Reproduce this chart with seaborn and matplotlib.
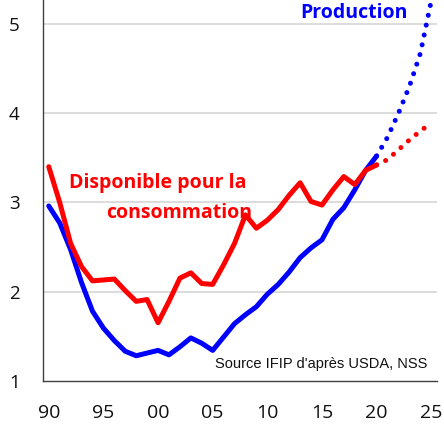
import numpy as np
import pandas as pd
import matplotlib
matplotlib.use("Agg")
import matplotlib.pyplot as plt
import seaborn as sns

# ---- data ----
years = list(range(1990, 2021))
production = [2.96, 2.77, 2.47, 2.10, 1.78, 1.59, 1.45, 1.33, 1.28, 1.31,
              1.34, 1.29, 1.38, 1.48, 1.42, 1.34, 1.49, 1.64, 1.74, 1.83,
              1.97, 2.08, 2.22, 2.38, 2.49, 2.58, 2.81, 2.94, 3.14, 3.36,
              3.52]
disponible = [3.40, 3.00, 2.54, 2.28, 2.12, 2.13, 2.14, 2.01, 1.89, 1.91,
              1.65, 1.89, 2.15, 2.21, 2.09, 2.08, 2.30, 2.54, 2.86, 2.71,
              2.80, 2.92, 3.08, 3.22, 3.01, 2.97, 3.14, 3.29, 3.20, 3.36,
              3.42]
proj_years = [2020, 2021, 2022, 2023, 2024, 2025]
production_proj = [3.52, 3.73, 4.00, 4.30, 4.67, 5.26]
disponible_proj = [3.42, 3.48, 3.59, 3.70, 3.80, 3.89]

x_tick_years = [1990, 1995, 2000, 2005, 2010, 2015, 2020, 2025]
x_tick_labels = ["90", "95", "00", "05", "10", "15", "20", "25"]
y_ticks = [1, 2, 3, 4, 5]

BLUE = "#0000FF"
RED = "#FF0000"

sns.set_style("white")
plt.rcParams["font.family"] = ["Open Sans", "DejaVu Sans"]

W, H = 444, 428
fig = plt.figure(figsize=(W / 100, H / 100), dpi=100)
ax = fig.add_axes([43.3 / W, 1 - 380.7 / H, (436.7 - 43.3) / W, 380.7 / H])

df = pd.DataFrame({"year": years, "prod": production, "disp": disponible})
dfp = pd.DataFrame({"year": proj_years, "prod": production_proj,
                    "disp": disponible_proj})

lw = 3.6
dot = (0, (0.01, 2.0))
sns.lineplot(data=df, x="year", y="prod", ax=ax, color=BLUE, linewidth=lw,
             solid_capstyle="round", solid_joinstyle="round")
sns.lineplot(data=dfp, x="year", y="prod", ax=ax, color=BLUE, linewidth=lw,
             linestyle=dot, dash_capstyle="round")
sns.lineplot(data=df, x="year", y="disp", ax=ax, color=RED, linewidth=lw,
             solid_capstyle="round", solid_joinstyle="round")
sns.lineplot(data=dfp, x="year", y="disp", ax=ax, color=RED, linewidth=lw,
             linestyle=dot, dash_capstyle="round")

ax.set_xlim(1989.5, 2025.5)
ax.set_ylim(1, 5.27)
ax.set_xlabel("")
ax.set_ylabel("")

# grid
ax.set_axisbelow(True)
for yv in y_ticks[1:]:
    ax.axhline(yv, color="#d9d9d9", linewidth=1.3, zorder=0)

# spines
for s in ["top", "right"]:
    ax.spines[s].set_visible(False)
for s in ["left", "bottom"]:
    ax.spines[s].set_color("#404040")
    ax.spines[s].set_linewidth(1.0)

ax.set_xticks(x_tick_years)
ax.set_xticklabels(x_tick_labels)
ax.set_xticks(np.arange(1990.5, 2025.6, 1), minor=True)
ax.tick_params(axis="x", which="major", length=0, pad=17, labelsize=14,
               labelcolor="#111111")
ax.tick_params(axis="x", which="minor", direction="in", length=3.5,
               width=0.9, color="#404040")
ax.set_yticks(y_ticks)
ax.set_yticklabels([str(v) for v in y_ticks])
ax.tick_params(axis="y", which="major", direction="in", length=5.5,
               width=1.0, color="#404040", pad=17, labelsize=13.5,
               labelcolor="#111111")

def fx(px):
    return px / W

def fy(py):
    return 1 - py / H

fig.text(fx(353.7), fy(13.3), "Production", color=BLUE, fontsize=14,
         fontweight="bold", ha="center", va="center")
fig.text(fx(157.7), fy(188.3), "Disponible pour la", color=RED, fontsize=14,
         fontweight="bold", ha="center", va="baseline")
fig.text(fx(179.2), fy(217.5), "consommation", color=RED, fontsize=14,
         fontweight="bold", ha="center", va="baseline")
fig.text(fx(215), fy(368), "Source IFIP d'après USDA, NSS", color="#111111",
         fontsize=10.5, family=["Liberation Sans", "DejaVu Sans"],
         ha="left", va="baseline")

fig.savefig("out.png", dpi=100)
